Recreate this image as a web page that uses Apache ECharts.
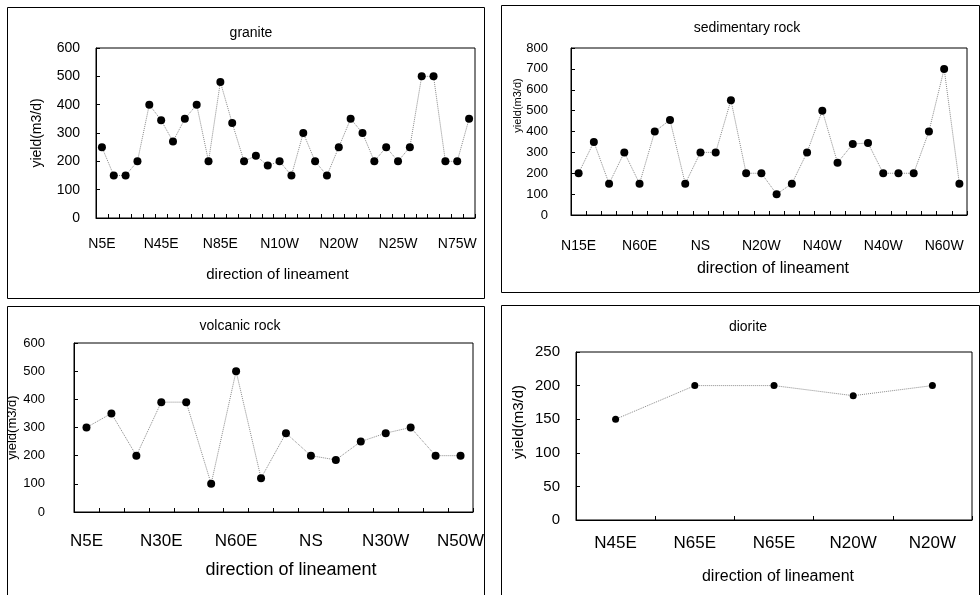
<!DOCTYPE html>
<html>
<head>
<meta charset="utf-8">
<script src="https://cdn.jsdelivr.net/npm/echarts@6/dist/echarts.min.js"></script>
<style>
html,body{margin:0;padding:0;background:#fff;}
#c{width:980px;height:595px;}
</style>
</head>
<body>
<div id="c"></div>
<script>
// ---- data ----
const graniteCats = ['N5E','','','','','N45E','','','','','N85E','','','','','N10W','','','','','N20W','','','','','N25W','','','','','N75W',''];
const graniteYield = [250,150,150,200,400,345,270,350,400,200,480,335,200,220,185,200,150,300,200,150,250,350,300,200,250,200,250,500,500,200,200,350];

const sedCats = ['N15E','','','','N60E','','','','NS','','','','N20W','','','','N40W','','','','N40W','','','','N60W',''];
const sedYield = [200,350,150,300,150,400,455,150,300,300,550,200,200,100,150,300,500,250,340,345,200,200,200,400,700,150];

const volcCats = ['N5E','','','N30E','','','N60E','','','NS','','','N30W','','','N50W'];
const volcYield = [300,350,200,390,390,100,500,120,280,200,185,250,280,300,200,200];

const dioriteCats = ['N45E','N65E','N65E','N20W','N20W'];
const dioriteYield = [150,200,200,185,200];

const titles = ['granite','sedimentary rock','volcanic rock','diorite'];
const xName = 'direction of lineament';
const yName = 'yield(m3/d)';

// ---- chart ----
const FONT = 'Liberation Sans, Arial, sans-serif';
const chart = echarts.init(document.getElementById('c'), null, {renderer:'canvas'});

function xAxis(idx, cats, labelInterval, fs, margin, nameFs, nameGap, namePad){
  return {
    type:'category', gridIndex:idx, data:cats, boundaryGap:true,
    axisLine:{show:true, lineStyle:{color:'#000', width:1}},
    axisTick:{show:true, inside:true, length:4, interval:0, lineStyle:{color:'#000'}},
    axisLabel:{interval:labelInterval, color:'#000', fontSize:fs, fontFamily:FONT, margin:margin},
    splitLine:{show:false},
    name:xName, nameLocation:'middle', nameGap:nameGap, nameMoveOverlap:false,
    nameTextStyle:{color:'#000', fontSize:nameFs, fontFamily:FONT, padding:namePad}
  };
}
function yAxis(idx, max, interval, fs, margin, nameFs, nameGap, namePad){
  return {
    type:'value', gridIndex:idx, min:0, max:max, interval:interval,
    axisLine:{show:true, lineStyle:{color:'#000', width:1}},
    axisTick:{show:true, inside:true, length:4, lineStyle:{color:'#000'}},
    axisLabel:{color:'#000', fontSize:fs, fontFamily:FONT, margin:margin},
    splitLine:{show:false},
    name:yName, nameLocation:'middle', nameGap:nameGap, nameRotate:90, nameMoveOverlap:false,
    nameTextStyle:{color:'#000', fontSize:nameFs, fontFamily:FONT, padding:namePad}
  };
}
function series(idx, data, size){
  return {
    type:'line', xAxisIndex:idx, yAxisIndex:idx, data:data,
    symbol:'circle', symbolSize:size, showSymbol:true, showAllSymbol:true,
    itemStyle:{color:'#000'},
    lineStyle:{color:'#8a8a8a', width:1, type:'dotted'},
    emphasis:{disabled:true}, animation:false
  };
}

const frame = (x,y,w,h)=>({type:'rect', silent:true, shape:{x:x,y:y,width:w,height:h},
  style:{fill:null, stroke:'#000', lineWidth:1}});

const option = {
  backgroundColor:'#fff',
  animation:false,
  title:[
    {text:titles[0], left:246, top:21, textAlign:'center', textStyle:{fontSize:14, fontWeight:'normal', color:'#000', fontFamily:FONT}},
    {text:titles[1], left:742, top:16, textAlign:'center', textStyle:{fontSize:14, fontWeight:'normal', color:'#000', fontFamily:FONT}},
    {text:titles[2], left:235, top:314, textAlign:'center', textStyle:{fontSize:14, fontWeight:'normal', color:'#000', fontFamily:FONT}},
    {text:titles[3], left:743, top:315, textAlign:'center', textStyle:{fontSize:14, fontWeight:'normal', color:'#000', fontFamily:FONT}}
  ],
  grid:[
    {left:96, right:505, top:48, bottom:377, show:true, borderColor:'#000', borderWidth:1, backgroundColor:'transparent', containLabel:false},
    {left:571, right:13, top:48, bottom:380, show:true, borderColor:'#000', borderWidth:1, backgroundColor:'transparent', containLabel:false},
    {left:74, right:507, top:343, bottom:83, show:true, borderColor:'#000', borderWidth:1, backgroundColor:'transparent', containLabel:false},
    {left:576, right:8, top:352, bottom:75, show:true, borderColor:'#000', borderWidth:1, backgroundColor:'transparent', containLabel:false}
  ],
  xAxis:[
    xAxis(0, graniteCats, 4, 14, 19, 15, 49, [0,16,0,0]),
    xAxis(1, sedCats, 3, 14, 24, 16, 46, [0,0,0,8]),
    xAxis(2, volcCats, 2, 17, 21, 18, 49, [0,0,0,35]),
    xAxis(3, dioriteCats, 0, 17, 15, 16, 49, [0,0,0,8])
  ],
  yAxis:[
    yAxis(0, 600, 100, 14, 16, 14, 52, 0),
    yAxis(1, 800, 100, 13, 23, 11, 48, [0,0,0,52]),
    yAxis(2, 600, 100, 13, 29, 13, 55, 0),
    yAxis(3, 250, 50, 15, 16, 15, 50, [0,0,0,28])
  ],
  series:[
    series(0, graniteYield, 8),
    series(1, sedYield, 8),
    series(2, volcYield, 8),
    series(3, dioriteYield, 7)
  ],
  graphic:[
    frame(7.5, 7.5, 477, 291),
    frame(501.5, 5.5, 478, 287),
    frame(7.5, 306.5, 477, 300),
    frame(501.5, 305.5, 478, 300)
  ]
};
chart.setOption(option);
</script>
</body>
</html>
